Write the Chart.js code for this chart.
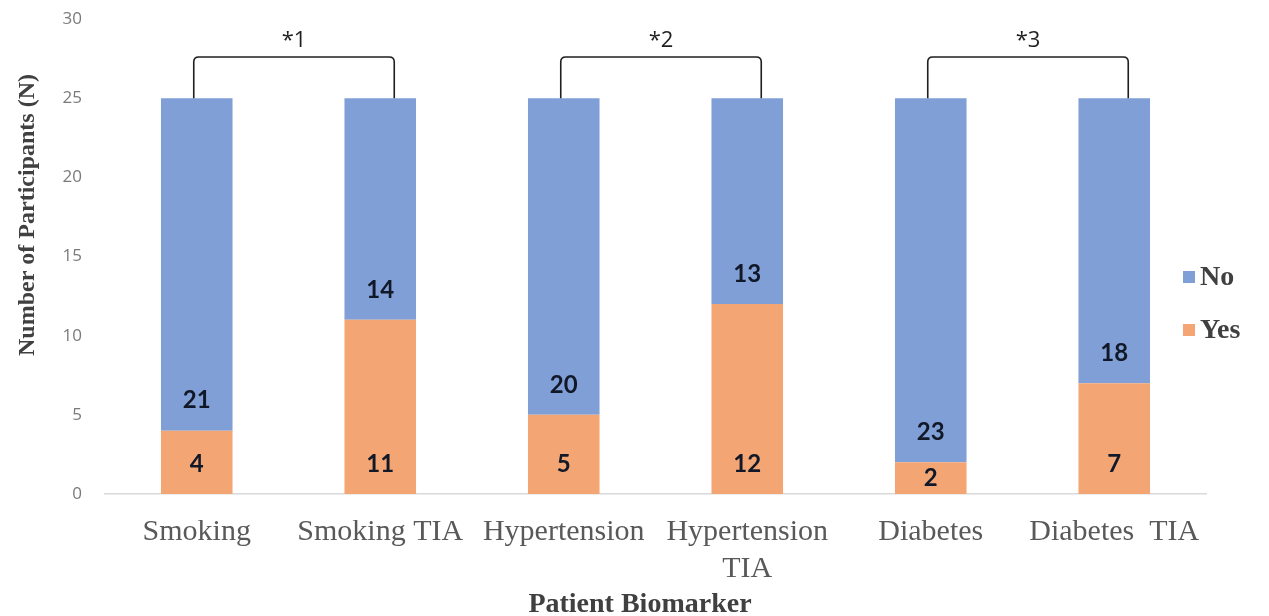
<!DOCTYPE html>
<html>
<head>
<meta charset="utf-8">
<script src="https://cdn.jsdelivr.net/npm/chart.js@4"></script>
<style>
  html, body { margin: 0; padding: 0; background: #ffffff; }
  #wrap { width: 1269px; height: 616px; position: relative; }
</style>
</head>
<body>
<div id="wrap"><canvas id="c" width="1269" height="616"></canvas></div>
<script>
// ---- data ----
const categories = ["Smoking", "Smoking TIA", "Hypertension", ["Hypertension", "TIA"], "Diabetes", "Diabetes  TIA"];
const yesValues = [4, 11, 5, 12, 2, 7];
const noValues = [21, 14, 20, 13, 23, 18];
const seriesNames = ["Yes", "No"];
const yTicks = [0, 5, 10, 15, 20, 25, 30];
const sigPairs = [[0, 1], [2, 3], [4, 5]];
const sigLabels = ["*1", "*2", "*3"];
const xTitle = "Patient Biomarker";
const yTitle = "Number of Participants (N)";

const BLUE = "#809fd6";
const ORANGE = "#f3a674";

const overlay = {
  id: "overlay",
  afterDatasetsDraw(chart) {
    const ctx = chart.ctx;
    const ys = chart.scales.y;

    // data labels
    ctx.save();
    ctx.font = "bold 24px Lato";
    ctx.fillStyle = "#111827";
    ctx.textAlign = "center";
    ctx.textBaseline = "middle";
    chart.data.datasets.forEach((ds, di) => {
      const meta = chart.getDatasetMeta(di);
      meta.data.forEach((el, i) => {
        const base = el.base, top = el.y;
        const y = Math.max(base - 30, (base + top) / 2);
        ctx.fillText(String(ds.data[i]), el.x, y);
      });
    });
    ctx.restore();

    // significance brackets
    const meta0 = chart.getDatasetMeta(0);
    ctx.save();
    ctx.strokeStyle = "#1f1f1f";
    ctx.lineWidth = 1.6;
    ctx.fillStyle = "#1f1f1f";
    ctx.font = "22px 'Open Sans'";
    ctx.textAlign = "center";
    ctx.textBaseline = "middle";
    sigPairs.forEach((p, k) => {
      const topVal = yesValues[p[0]] + noValues[p[0]];
      const x1 = meta0.data[p[0]].x - 3;
      const x2 = meta0.data[p[1]].x + 14;
      const yb = ys.getPixelForValue(topVal);
      const yh = ys.getPixelForValue(27.6);
      const r = 5;
      ctx.beginPath();
      ctx.moveTo(x1, yb);
      ctx.lineTo(x1, yh + r);
      ctx.quadraticCurveTo(x1, yh, x1 + r, yh);
      ctx.lineTo(x2 - r, yh);
      ctx.quadraticCurveTo(x2, yh, x2, yh + r);
      ctx.lineTo(x2, yb);
      ctx.stroke();
      ctx.fillText(sigLabels[k], (x1 + x2) / 2, ys.getPixelForValue(28.65));
    });
    ctx.restore();

    // legend (No above Yes)
    ctx.save();
    ctx.font = "bold 28px 'Liberation Serif'";
    ctx.textAlign = "left";
    ctx.textBaseline = "middle";
    const order = [1, 0];
    order.forEach((di, j) => {
      const ds = chart.data.datasets[di];
      const y = 277 + j * 53;
      ctx.fillStyle = ds.backgroundColor;
      ctx.fillRect(1183, y - 6, 12, 12);
      ctx.fillStyle = "#404040";
      ctx.fillText(ds.label, 1200, y + 1);
    });
    ctx.restore();

    // axis titles
    ctx.save();
    ctx.fillStyle = "#404040";
    ctx.font = "bold 28px 'Liberation Serif'";
    ctx.textAlign = "center";
    ctx.textBaseline = "middle";
    ctx.fillText(xTitle, 640, 605);
    ctx.font = "bold 24px 'Liberation Serif'";
    ctx.translate(28, 215);
    ctx.rotate(-Math.PI / 2);
    ctx.fillText(yTitle, 0, 0);
    ctx.restore();
  }
};

new Chart(document.getElementById("c"), {
  type: "bar",
  data: {
    labels: categories,
    datasets: [
      { label: seriesNames[0], data: yesValues, backgroundColor: ORANGE, borderWidth: 0 },
      { label: seriesNames[1], data: noValues, backgroundColor: BLUE, borderWidth: 0 }
    ]
  },
  options: {
    responsive: false,
    animation: false,
    devicePixelRatio: 1,
    layout: { padding: { left: 0, right: 63, top: 19, bottom: 0 } },
    plugins: {
      legend: { display: false },
      tooltip: { enabled: false }
    },
    datasets: { bar: { categoryPercentage: 1.0, barPercentage: 0.39 } },
    scales: {
      x: {
        stacked: true,
        grid: { display: false, drawTicks: false },
        border: { display: true, color: "#d9d9d9", width: 1.5 },
        ticks: {
          color: "#595959",
          font: { family: "'Liberation Serif'", size: 30, lineHeight: 1.25 },
          padding: 19,
          maxRotation: 0,
          autoSkip: false
        },
        afterFit(scale) { scale.height = 122; }
      },
      y: {
        stacked: true,
        min: 0,
        max: 30,
        afterBuildTicks(scale) { scale.ticks = yTicks.map(v => ({ value: v })); },
        grid: { display: false, drawTicks: true, tickLength: 20 },
        border: { display: false },
        ticks: {
          color: "#7a7a7a",
          font: { family: "'Open Sans'", size: 17 },
          padding: 3
        },
        afterFit(scale) { scale.width = 105; }
      }
    }
  },
  plugins: [overlay]
});
</script>
</body>
</html>
